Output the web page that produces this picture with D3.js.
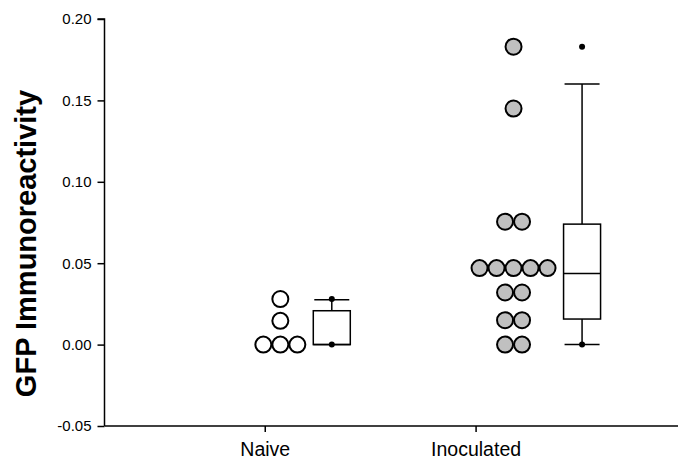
<!DOCTYPE html>
<html>
<head>
<meta charset="utf-8">
<script src="https://cdn.jsdelivr.net/npm/d3@7"></script>
<style>
  body { margin: 0; background: #fff; }
  svg { display: block; font-family: "Liberation Sans", Arial, sans-serif; }
  .axis path, .axis line { stroke: #000; stroke-width: 1.5; }
  .axis text { fill: #000; }
</style>
</head>
<body>
<svg id="chart" width="678" height="462"></svg>
<script>
// group names and where things sit on the x scale
var categories = ['Naive', 'Inoculated'],
    dotPos = [1.074, 2.18],
    boxPos = [1.318, 2.505];

// raw points
var naive = [0, 0, 0, 0.0146, 0.028],
    inoculated = [0, 0, 0.015, 0.015, 0.032, 0.032,
                  0.047, 0.047, 0.047, 0.047, 0.047,
                  0.0755, 0.0755, 0.145, 0.183];

// box stats: [low whisker, q1, median, q3, high whisker]
var naiveBox = [0, 0, 0, 0.0208, 0.0275],
    inoculatedBox = [0, 0.0157, 0.0437, 0.074, 0.160],
    naiveOut = [0.028, 0],
    inoculatedOut = [0.183, 0];

var yTicks = [-0.05, 0, 0.05, 0.10, 0.15, 0.20];

var svg = d3.select('#chart'),
    groups = [
      { name: categories[0], pts: naive, box: naiveBox, out: naiveOut, fill: '#fff', dx: dotPos[0], bx: boxPos[0] },
      { name: categories[1], pts: inoculated, box: inoculatedBox, out: inoculatedOut, fill: '#c0c0c0', dx: dotPos[1], bx: boxPos[1] }
    ];

var x = d3.scaleLinear().domain([0.24, 2.96]).range([104.5, 678]),
    y = d3.scaleLinear().domain([-0.05, 0.20]).range([426, 19]);

var dotR = 8, dotStep = 17, boxHalf = 18.5, capHalf = 17.5;

// axes
svg.append('g').attr('class', 'axis')
  .attr('transform', 'translate(' + x.range()[0] + ',0)')
  .call(d3.axisLeft(y).tickValues(yTicks).tickSize(7).tickPadding(6)
    .tickFormat(function(d) { return d.toFixed(2); }))
  .call(function(g) { g.select('.domain').attr('d', 'M-7,' + y(0.20) + 'H0V' + y(-0.05)); })
  .selectAll('text').style('font-size', '15px');

svg.append('g').attr('class', 'axis')
  .attr('transform', 'translate(0,' + y.range()[0] + ')')
  .call(d3.axisBottom(x).tickValues([1, 2]).tickSize(6).tickPadding(10)
    .tickFormat(function(d) { return categories[d - 1]; }))
  .call(function(g) { g.select('.domain').attr('d', 'M' + x.range()[0] + ',0H' + x.range()[1]); })
  .selectAll('text').style('font-size', '19.5px');

svg.append('text')
  .attr('transform', 'translate(36,243.5) rotate(-90)')
  .attr('text-anchor', 'middle')
  .style('font-size', '29px').style('font-weight', 'bold')
  .text('GFP Immunoreactivity');

// dot columns: points with same value spread into a row
groups.forEach(function(g) {
  var rows = d3.groups(g.pts, function(d) { return d; }),
      cx = x(g.dx), laid = [];
  rows.forEach(function(r) {
    var n = r[1].length;
    r[1].forEach(function(v, i) {
      laid.push({ v: v, px: cx + (i - (n - 1) / 2) * dotStep });
    });
  });
  svg.append('g').selectAll('circle').data(laid).enter()
    .append('circle')
      .attr('cx', function(d) { return d.px; })
      .attr('cy', function(d) { return y(d.v); })
      .attr('r', dotR)
      .attr('fill', g.fill)
      .attr('stroke', '#000')
      .attr('stroke-width', 2);
});

// box plots
groups.forEach(function(g) {
  var b = g.box, cx = x(g.bx),
      bg = svg.append('g').attr('stroke', '#000').attr('stroke-width', 1.5).attr('fill', 'none');
  if (b[4] > b[3]) {
    bg.append('line').attr('x1', cx).attr('x2', cx).attr('y1', y(b[3])).attr('y2', y(b[4]));
    bg.append('line').attr('x1', cx - capHalf).attr('x2', cx + capHalf).attr('y1', y(b[4])).attr('y2', y(b[4]));
  }
  if (b[1] > b[0]) {
    bg.append('line').attr('x1', cx).attr('x2', cx).attr('y1', y(b[1])).attr('y2', y(b[0]));
    bg.append('line').attr('x1', cx - capHalf).attr('x2', cx + capHalf).attr('y1', y(b[0])).attr('y2', y(b[0]));
  }
  bg.append('rect')
    .attr('x', cx - boxHalf).attr('width', boxHalf * 2)
    .attr('y', y(b[3])).attr('height', y(b[1]) - y(b[3]))
    .attr('fill', '#fff');
  bg.append('line').attr('x1', cx - boxHalf).attr('x2', cx + boxHalf).attr('y1', y(b[2])).attr('y2', y(b[2]));
  svg.append('g').selectAll('circle').data(g.out).enter()
    .append('circle')
      .attr('cx', cx).attr('cy', function(d) { return y(d); })
      .attr('r', 3).attr('fill', '#000');
});
</script>
</body>
</html>
